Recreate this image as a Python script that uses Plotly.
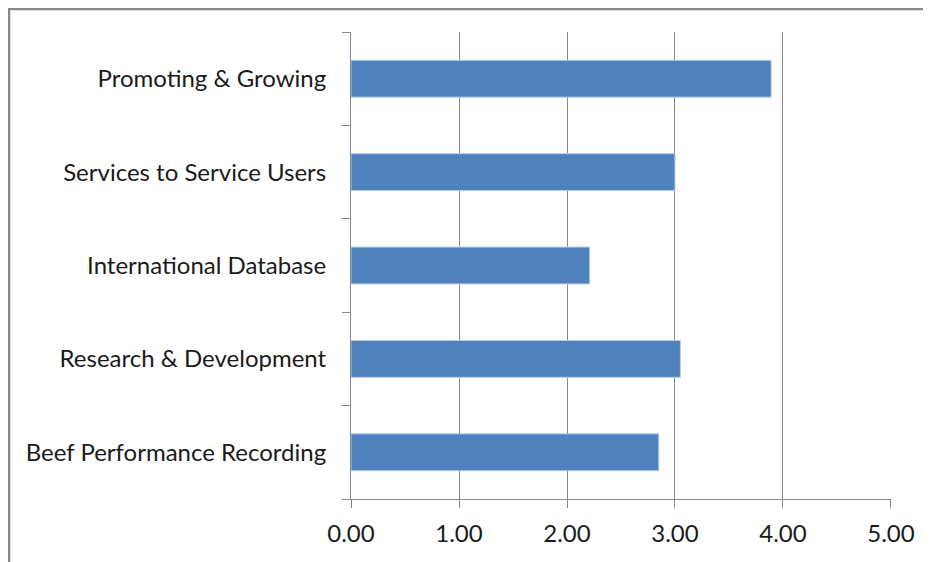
import plotly.graph_objects as go

categories = ["Beef Performance Recording", "Research & Development",
              "International Database", "Services to Service Users",
              "Promoting & Growing"]
values = [2.85, 3.05, 2.21, 3.00, 3.89]
x_tickvals = [0, 1, 2, 3, 4, 5]
x_ticktext = ["0.00", "1.00", "2.00", "3.00", "4.00", "5.00"]

W, H = 923, 554
L, R, T, B = 343, 40, 24, 63
pw, ph = W - L - R, H - T - B

def px_x(p):
    return (p - L) / pw

def px_y(p):
    return (H - B - p) / ph

fig = go.Figure(go.Bar(
    x=values, y=categories, orientation="h",
    marker=dict(color="#4F81BD", line=dict(color="#B9CDE5", width=1)),
    hoverinfo="x+y",
))

grid = "#868686"
border = dict(color="#888888", width=2.5)
fig.update_layout(
    width=W, height=H,
    margin=dict(l=L, r=R, t=T, b=B),
    paper_bgcolor="white", plot_bgcolor="white",
    bargap=0.605,
    showlegend=False,
    font=dict(family="Lato, Carlito, sans-serif", size=24, color="#1a1a1a"),
    xaxis=dict(
        range=[0, 5.0001], tickvals=x_tickvals, ticktext=x_ticktext,
        showgrid=True, gridcolor=grid, gridwidth=1,
        showline=True, linecolor=grid, linewidth=1,
        ticks="outside", ticklen=8, tickcolor=grid,
        zeroline=False, ticklabelstandoff=5,
    ),
    yaxis=dict(
        categoryorder="array", categoryarray=categories,
        tickson="boundaries", ticks="outside", ticklen=8, tickcolor=grid,
        showline=True, linecolor=grid, linewidth=1,
        showgrid=False, ticklabelstandoff=19,
    ),
    shapes=[
        dict(type="line", xref="paper", yref="paper",
             x0=px_x(1), x1=px_x(1), y0=px_y(0), y1=px_y(H + 20), line=border),
        dict(type="line", xref="paper", yref="paper",
             x0=px_x(0), x1=px_x(W + 20), y0=px_y(1), y1=px_y(1), line=border),
    ],
)

fig.write_html("out.html")
